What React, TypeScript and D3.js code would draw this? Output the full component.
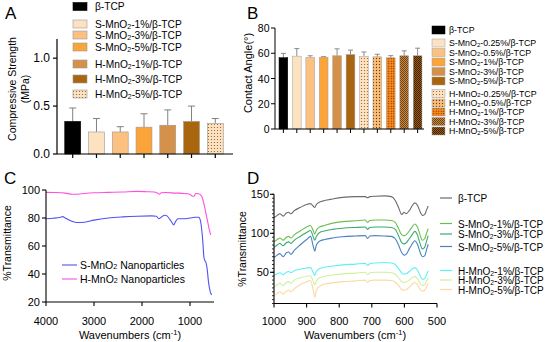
import React from "react";
import * as d3 from "d3";

// ---- Panel A: compressive strength ----
const aGroups = ["β-TCP", "S-MnO2-1%/β-TCP", "S-MnO2-3%/β-TCP", "S-MnO2-5%/β-TCP", "H-MnO2-1%/β-TCP", "H-MnO2-3%/β-TCP", "H-MnO2-5%/β-TCP"];
const aMeans = [0.34, 0.23, 0.23, 0.28, 0.30, 0.34, 0.32];
const aSd = [0.14, 0.14, 0.055, 0.14, 0.16, 0.16, 0.05];
const aTicks = [0, 0.5, 1.0];

// ---- Panel B: contact angle ----
const bGroups = ["β-TCP", "S-MnO2-0.25%/β-TCP", "S-MnO2-0.5%/β-TCP", "S-MnO2-1%/β-TCP", "S-MnO2-3%/β-TCP", "S-MnO2-5%/β-TCP",
  "H-MnO2-0.25%/β-TCP", "H-MnO2-0.5%/β-TCP", "H-MnO2-1%/β-TCP", "H-MnO2-3%/β-TCP", "H-MnO2-5%/β-TCP"];
const bMeans = [56.5, 57.7, 56.7, 56.9, 58, 59, 57.5, 57.2, 56.4, 58, 58];
const bSd = [3.4, 6, 1.3, 0.4, 5.5, 3.5, 3.5, 2, 1.7, 3.9, 6];
const bTicks = [0, 20, 40, 60, 80];

// ---- Panel C: FTIR of nanoparticles ----
const cWnS = [4000, 3850, 3700, 3650, 3600, 3450, 3350, 3200, 3000, 2700, 2400, 2100, 1800, 1700, 1650, 1600, 1530, 1480, 1420, 1380, 1340, 1300, 1250, 1150, 1000, 900, 820, 790, 760, 735, 710, 690, 670, 640, 620, 600, 575, 550];
const cS = [79.5, 79.8, 80.5, 81, 80, 77.5, 76.8, 77, 78.5, 80, 80.8, 81.3, 81.5, 81.2, 79.5, 80.5, 82, 81.5, 79, 77, 75, 77.5, 79.5, 79.5, 80, 80.5, 80.5, 79, 73, 64, 52, 49.5, 48.5, 43, 36, 31, 27, 25];
const cWnH = [4000, 3800, 3600, 3450, 3350, 3200, 3000, 2700, 2400, 2100, 1900, 1750, 1680, 1640, 1600, 1500, 1300, 1150, 1000, 960, 920, 880, 820, 780, 750, 720, 690, 660, 630, 600, 570];
const cH = [98.3, 98.2, 97.8, 97, 97, 97.5, 98, 98.3, 98.6, 99, 98.8, 98.6, 97.8, 97, 98, 98.2, 97.8, 97.6, 97, 95.8, 95.5, 97.5, 97.3, 96.5, 95, 91.5, 87, 82, 77, 72, 68];
const cXTicks = [4000, 3000, 2000, 1000];
const cYTicks = [20, 40, 60, 80, 100];

// ---- Panel D: FTIR of composites ----
const dWn = [1000, 990, 982, 972, 962, 955, 948, 938, 920, 900, 888, 880, 875, 870, 860, 845, 820, 790, 750, 720, 713, 706, 690, 660, 640, 628, 618, 608, 601, 595, 585, 575, 568, 560, 552, 545, 538, 532, 527];
const dTcp = [120, 123, 125, 122, 126, 127, 125, 129, 133, 137, 138, 135, 133, 137, 140, 142, 144, 146, 147, 147, 145.5, 147, 147.5, 148, 147, 142, 133, 124, 127, 125, 129, 136, 139, 136, 128, 123, 124, 130, 135];
const dS1 = [89, 92, 94, 91, 95, 96, 94, 98, 103, 108, 110, 104, 99, 104, 108, 110, 113, 115, 116, 117, 114, 116.5, 117, 117, 116.5, 114, 106, 98, 97, 98, 103, 109, 112, 108, 98, 91, 93, 100, 106];
const dS3 = [82, 85, 87, 84, 88, 89, 87, 91, 96, 101, 103.5, 96, 91, 96, 101, 103, 105, 106.5, 107.5, 108, 105, 107.5, 108, 108, 107.5, 105, 97, 88, 86.5, 87.5, 93, 99, 102.5, 98, 87, 80, 82, 90, 97];
const dS5 = [69, 72, 74, 70, 75, 76, 73, 78, 85, 92, 96, 84, 77, 85, 90, 92, 94, 95.5, 96.5, 97, 93.5, 96.5, 97, 96.5, 96, 93, 85, 75, 72, 73, 80, 87, 90.5, 86, 76, 70, 71, 79, 86];
const dH1 = [46, 48, 49.5, 47, 50, 51, 49.5, 52, 54, 55.5, 56, 50, 46, 51, 55, 56.5, 58, 59.5, 60.5, 61.5, 59, 61, 62, 62.5, 62, 60, 55, 49, 47.5, 48, 51, 54.5, 56, 53, 46, 41, 42, 47, 52];
const dH3 = [31, 34, 36, 33, 37, 38, 36, 40, 43, 45, 45.5, 39, 34, 39, 43, 45, 46.5, 48, 49, 50, 47, 49.5, 50, 50, 49.5, 47.5, 43, 38, 37, 37.5, 40, 43.5, 44.5, 42, 36, 33, 34, 38.5, 43];
const dH5 = [20, 23, 25, 22, 26, 27, 25, 29, 34, 38, 39.5, 28, 18, 27, 32, 35, 36.5, 38, 39, 40, 37, 39.5, 40, 40, 39.5, 37.5, 33, 28, 27, 27.5, 31, 35, 37, 34, 28.5, 26, 27, 31.5, 36];
const dNames = ["β-TCP", "S-MnO2-1%/β-TCP", "S-MnO2-3%/β-TCP", "S-MnO2-5%/β-TCP", "H-MnO2-1%/β-TCP", "H-MnO2-3%/β-TCP", "H-MnO2-5%/β-TCP"];
const dSeries = [dTcp, dS1, dS3, dS5, dH1, dH3, dH5];
const dXTicks = [1000, 900, 800, 700, 600, 500];
const dYTicks = [50, 100, 150];

// styles
const aFills = ["#000", "#fde2c2", "#fcc080", "#fba43a", "#d59149", "#a9660f", "url(#dotsLight)"];
const aLegendY = [6.5, 24, 35, 47, 64, 79, 94];
const bFills = ["#000", "#fde2c2", "#fcc080", "#fba43a", "#d59149", "#a9660f",
  "url(#dotsLight)", "url(#dotsMid)", "url(#dotsOrange)", "url(#checkBrown)", "url(#checkDark)"];
const bLegendY = [30, 43, 52.5, 62, 71.5, 81, 93.5, 103, 112, 121.5, 131];
const dColors = ["#6b6b6b", "#6cbf4e", "#3aaa70", "#4a82c2", "#5ef0f5", "#cff0a0", "#fcd9a0"];
const dLegendY = [198, 223.5, 234, 246.5, 270.5, 280, 289.5];

const FONT = "'Liberation Sans', Arial, Helvetica, sans-serif";

function Label({ text, x, y, size }: { text: string; x: number; y: number; size: number }) {
  const i = text.indexOf("MnO2");
  if (i < 0) return <text x={x} y={y} fontSize={size} dominantBaseline="central">{text}</text>;
  const pre = text.slice(0, i + 3);
  const post = text.slice(i + 4);
  const sh = size * 0.22;
  return (
    <text x={x} y={y} fontSize={size} dominantBaseline="central">
      <tspan>{pre}</tspan>
      <tspan dy={sh} fontSize={size * 0.68}>2</tspan>
      <tspan dy={-sh}>{post}</tspan>
    </text>
  );
}

function WaveTitle({ x, y }: { x: number; y: number }) {
  return (
    <text x={x} y={y} fontSize={11} textAnchor="middle">
      <tspan>Wavenumbers (cm</tspan>
      <tspan dy={-4} fontSize={7.5}>-1</tspan>
      <tspan dy={4}>)</tspan>
    </text>
  );
}

export default function App() {
  // A scales
  const ax = d3.scaleBand<string>().domain(aGroups).range([60, 228]).paddingInner(0.33).paddingOuter(0.2);
  const ay = d3.scaleLinear().domain([0, 1.2]).range([154, 39]);
  // B scales
  const bx = d3.scaleBand<string>().domain(bGroups).range([275, 426]).paddingInner(0.35).paddingOuter(0.3);
  const by = d3.scaleLinear().domain([0, 80]).range([129, 28]);
  // C scales
  const cx = d3.scaleLinear().domain([4000, 500]).range([46, 214]);
  const cy = d3.scaleLinear().domain([20, 100]).range([302, 190]);
  // D scales
  const dx = d3.scaleLinear().domain([1000, 500]).range([274, 437]);
  const dy = d3.scaleLinear().domain([10, 150]).range([303.5, 194.3]);

  const cLine = d3.line<[number, number]>().x(d => cx(d[0])).y(d => cy(d[1])).curve(d3.curveMonotoneX);
  const dLine = d3.line<[number, number]>().x(d => dx(d[0])).y(d => dy(d[1])).curve(d3.curveMonotoneX);
  const dMinor = d3.range(10, 151, 5);

  return (
    <svg width={550} height={342} style={{ position: "absolute", left: 0, top: 0, background: "#fff" }}
      fontFamily={FONT}>
      <defs>
        <pattern id="dotsLight" width={3} height={3} patternUnits="userSpaceOnUse">
          <rect width={3} height={3} fill="#fde2c2" />
          <circle cx={1.5} cy={1.5} r={0.6} fill="#8a5a20" />
        </pattern>
        <pattern id="dotsMid" width={3} height={3} patternUnits="userSpaceOnUse">
          <rect width={3} height={3} fill="#fcbf7a" />
          <circle cx={1.5} cy={1.5} r={0.65} fill="#6e3e10" />
        </pattern>
        <pattern id="dotsOrange" width={2.5} height={2.5} patternUnits="userSpaceOnUse">
          <rect width={2.5} height={2.5} fill="#ff8a1a" />
          <circle cx={1.25} cy={1.25} r={0.65} fill="#5a2a00" />
        </pattern>
        <pattern id="checkBrown" width={2} height={2} patternUnits="userSpaceOnUse">
          <rect width={2} height={2} fill="#c98a45" />
          <rect width={1} height={1} fill="#6e4215" />
          <rect x={1} y={1} width={1} height={1} fill="#6e4215" />
        </pattern>
        <pattern id="checkDark" width={2} height={2} patternUnits="userSpaceOnUse">
          <rect width={2} height={2} fill="#9a5c14" />
          <rect width={1} height={1} fill="#3e2200" />
          <rect x={1} y={1} width={1} height={1} fill="#3e2200" />
        </pattern>
      </defs>

      {/* Panel letters */}
      <g fontSize={17}>
        <text x={5} y={19}>A</text>
        <text x={247} y={19}>B</text>
        <text x={4} y={184}>C</text>
        <text x={247} y={184}>D</text>
      </g>

      {/* ===== A ===== */}
      <g>
        {aGroups.map((g, i) => {
          const x0 = ax(g)!;
          const xc = x0 + ax.bandwidth() / 2;
          const top = ay(aMeans[i] + aSd[i]);
          return (
            <g key={g}>
              <line x1={xc} x2={xc} y1={ay(aMeans[i])} y2={top} stroke="#808080" strokeWidth={1} />
              <line x1={xc - 3.5} x2={xc + 3.5} y1={top} y2={top} stroke="#808080" strokeWidth={1} />
              <rect x={x0} y={ay(aMeans[i])} width={ax.bandwidth()} height={ay(0) - ay(aMeans[i])}
                fill={aFills[i]} stroke={i === 0 ? "#000" : "#9a9a9a"} strokeWidth={0.6} />
            </g>
          );
        })}
        <line x1={57} x2={57} y1={39} y2={154} stroke="#000" strokeWidth={1.2} />
        <line x1={57} x2={233} y1={154} y2={154} stroke="#000" strokeWidth={1.2} />
        {aTicks.map(t => (
          <g key={t}>
            <line x1={53} x2={57} y1={ay(t)} y2={ay(t)} stroke="#000" strokeWidth={1.2} />
            <text x={50} y={ay(t)} fontSize={12} textAnchor="end" dominantBaseline="central">{t.toFixed(1)}</text>
          </g>
        ))}
        {aGroups.map(g => (
          <line key={g} x1={ax(g)! + ax.bandwidth() / 2} x2={ax(g)! + ax.bandwidth() / 2} y1={154} y2={158}
            stroke="#000" strokeWidth={1.2} />
        ))}
        <text transform="translate(16,89) rotate(-90)" fontSize={10.5} textAnchor="middle">Compressive Strength</text>
        <text transform="translate(29,89) rotate(-90)" fontSize={10.5} textAnchor="middle">(MPa)</text>
        {aGroups.map((g, i) => (
          <g key={g}>
            <rect x={73} y={aLegendY[i] - 4} width={14} height={8} fill={aFills[i]}
              stroke={i === 0 ? "#000" : "#9a9a9a"} strokeWidth={0.6} />
            <Label text={g} x={95} y={aLegendY[i]} size={10.2} />
          </g>
        ))}
      </g>

      {/* ===== B ===== */}
      <g>
        {bGroups.map((g, i) => {
          const x0 = bx(g)!;
          const xc = x0 + bx.bandwidth() / 2;
          const top = by(bMeans[i] + bSd[i]);
          return (
            <g key={g}>
              <line x1={xc} x2={xc} y1={by(bMeans[i])} y2={top} stroke="#808080" strokeWidth={0.9} />
              <line x1={xc - 2.5} x2={xc + 2.5} y1={top} y2={top} stroke="#808080" strokeWidth={0.9} />
              <rect x={x0} y={by(bMeans[i])} width={bx.bandwidth()} height={by(0) - by(bMeans[i])}
                fill={bFills[i]} stroke={i === 0 ? "#000" : "#a0a0a0"} strokeWidth={0.5} />
            </g>
          );
        })}
        <line x1={275} x2={275} y1={28} y2={129} stroke="#000" strokeWidth={1} />
        <line x1={275} x2={424} y1={129} y2={129} stroke="#000" strokeWidth={1} />
        {bTicks.map(t => (
          <g key={t}>
            <line x1={271} x2={275} y1={by(t)} y2={by(t)} stroke="#000" strokeWidth={1} />
            <text x={269.5} y={by(t)} fontSize={10.5} textAnchor="end" dominantBaseline="central">{t}</text>
          </g>
        ))}
        {bGroups.map(g => (
          <line key={g} x1={bx(g)! + bx.bandwidth() / 2} x2={bx(g)! + bx.bandwidth() / 2} y1={129} y2={133}
            stroke="#000" strokeWidth={1} />
        ))}
        <text transform="translate(252,73) rotate(-90)" fontSize={11} textAnchor="middle">Contact Angle(°)</text>
        {bGroups.map((g, i) => (
          <g key={g}>
            <rect x={432} y={bLegendY[i] - 4} width={13} height={8} fill={bFills[i]}
              stroke={i === 0 ? "#000" : "#a0a0a0"} strokeWidth={0.5} />
            <Label text={g} x={449} y={bLegendY[i]} size={8.8} />
          </g>
        ))}
      </g>

      {/* ===== C ===== */}
      <g>
        <path d={cLine(cWnS.map((w, i) => [w, cS[i]] as [number, number]))!} fill="none" stroke="#4f52f2" strokeWidth={1.1} />
        <path d={cLine(cWnH.map((w, i) => [w, cH[i]] as [number, number]))!} fill="none" stroke="#ff4fe0" strokeWidth={1.1} />
        <line x1={46} x2={46} y1={190} y2={302} stroke="#000" strokeWidth={1.1} />
        <line x1={46} x2={214} y1={302} y2={302} stroke="#000" strokeWidth={1.1} />
        {cYTicks.map(t => (
          <g key={t}>
            <line x1={42} x2={46} y1={cy(t)} y2={cy(t)} stroke="#000" strokeWidth={1.1} />
            <text x={40} y={cy(t)} fontSize={11} textAnchor="end" dominantBaseline="central">{t}</text>
          </g>
        ))}
        {cXTicks.map(t => (
          <g key={t}>
            <line x1={cx(t)} x2={cx(t)} y1={302} y2={306} stroke="#000" strokeWidth={1.1} />
            <text x={cx(t)} y={325} fontSize={11} textAnchor="middle">{t}</text>
          </g>
        ))}
        <text transform="translate(11,243) rotate(-90)" fontSize={10.5} textAnchor="middle">%Transmittance</text>
        <WaveTitle x={130} y={339} />
        <line x1={62} x2={77} y1={265} y2={265} stroke="#4f52f2" strokeWidth={1.1} />
        <Label text="S-MnO2 Nanoparticles" x={80} y={265} size={10.5} />
        <line x1={62} x2={77} y1={279} y2={279} stroke="#ff4fe0" strokeWidth={1.1} />
        <Label text="H-MnO2 Nanoparticles" x={80} y={279} size={10.5} />
      </g>

      {/* ===== D ===== */}
      <g>
        {dSeries.map((s, k) => (
          <path key={k} d={dLine(dWn.map((w, i) => [w, s[i]] as [number, number]))!} fill="none"
            stroke={dColors[k]} strokeWidth={1.1} />
        ))}
        <line x1={274} x2={274} y1={194.3} y2={303.5} stroke="#000" strokeWidth={1.1} />
        <line x1={274} x2={437} y1={303.5} y2={303.5} stroke="#000" strokeWidth={1.1} />
        {dMinor.map(t => (
          <line key={t} x1={272} x2={274} y1={dy(t)} y2={dy(t)} stroke="#000" strokeWidth={0.8} />
        ))}
        {dYTicks.map(t => (
          <g key={t}>
            <line x1={270} x2={274} y1={dy(t)} y2={dy(t)} stroke="#000" strokeWidth={1.1} />
            <text x={269} y={dy(t)} fontSize={11} textAnchor="end" dominantBaseline="central">{t}</text>
          </g>
        ))}
        {dXTicks.map(t => (
          <g key={t}>
            <line x1={dx(t)} x2={dx(t)} y1={303.5} y2={307.5} stroke="#000" strokeWidth={1.1} />
            <text x={dx(t)} y={325} fontSize={11} textAnchor="middle">{t}</text>
          </g>
        ))}
        <text transform="translate(246,249) rotate(-90)" fontSize={10.5} textAnchor="middle">%Transmittance</text>
        <WaveTitle x={355} y={339} />
        {dNames.map((n, i) => (
          <g key={n}>
            <line x1={440} x2={452} y1={dLegendY[i]} y2={dLegendY[i]} stroke={dColors[i]} strokeWidth={1.2} />
            <Label text={n} x={458} y={dLegendY[i]} size={10} />
          </g>
        ))}
      </g>
    </svg>
  );
}
